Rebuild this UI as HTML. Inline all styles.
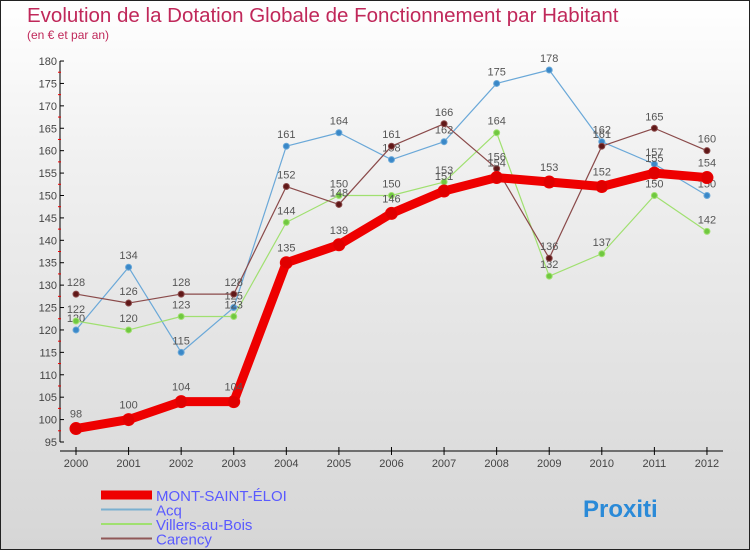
<!DOCTYPE html>
<html><head><meta charset="utf-8"><style>
body{margin:0}
#c{width:750px;height:550px;position:relative;overflow:hidden;box-sizing:border-box;border:1px solid #222;background:linear-gradient(#fff,#f0f0f0 30%,#d6d6d6);font-family:"Liberation Sans","DejaVu Sans",sans-serif}
</style></head><body>
<div id="c">
<svg id="s" width="750" height="550" style="position:absolute;left:0;top:0">
<text x="26" y="21" font-size="20.5" fill="#c0285a">Evolution de la Dotation Globale de Fonctionnement par Habitant</text>
<text x="26" y="38" font-size="12" fill="#c0285a">(en € et par an)</text>
</svg>
</div>
<script>
const years=[2000,2001,2002,2003,2004,2005,2006,2007,2008,2009,2010,2011,2012];
const mont=[98,100,104,104,135,139,146,151,154,153,152,155,154];
const acq=[120,134,115,125,161,164,158,162,175,178,162,157,150];
const villers=[122,120,123,123,144,150,150,153,164,132,137,150,142];
const carency=[128,126,128,128,152,148,161,166,156,136,161,165,160];
const yTicks=[95,100,105,110,115,120,125,130,135,140,145,150,155,160,165,170,175,180];
const NS="http://www.w3.org/2000/svg",s=document.getElementById('s');
const X=i=>75+i*52.58, Y=v=>441-(v-95)*4.482;
function el(t,a,p){const e=document.createElementNS(NS,t);for(const k in a)e.setAttribute(k,a[k]);(p||s).appendChild(e);return e;}
let ax=el('line',{x1:59,y1:60,x2:59,y2:441,stroke:'#000'});


yTicks.forEach((v,k)=>{
 el('line',{x1:59,x2:63,y1:Y(v),y2:Y(v),stroke:'#000'});
 if(k<yTicks.length-1)el('line',{x1:57,x2:60,y1:Y(v+2.5),y2:Y(v+2.5),stroke:'#e00'});
 const t=el('text',{x:56,y:Y(v)+4,'font-size':11,'text-anchor':'end',fill:'#444'});t.textContent=v;
 
 
});
let xa=el('line',{x1:59,y1:450,x2:722,y2:450,stroke:'#000'});


years.forEach((y,i)=>{
 el('line',{x1:X(i),x2:X(i),y1:446,y2:454,stroke:'#000'});
 const t=el('text',{x:X(i),y:466,'font-size':11,'text-anchor':'middle',fill:'#444'});t.textContent=y;
 
 
});
function series(d,color,dot,w,r,name){
 const g=el('g',{});
 
 
 el('polyline',{points:d.map((v,i)=>X(i)+','+Y(v)).join(' '),fill:'none',stroke:color,'stroke-width':w,'stroke-linejoin':'round'},g);
 d.forEach((v,i)=>{
  el('circle',{cx:X(i),cy:Y(v),r:r,fill:dot,stroke:color,'stroke-width':1},g);
  const t=el('text',{x:X(i),y:Y(v)-(w>3?11:8),'font-size':11,'text-anchor':'middle',fill:'#555'},g);t.textContent=v;
 });
}
series(acq,'#6aa8d8','#3a88c8',1.2,3,'series-acq');
series(villers,'#a0e070','#70c840',1.2,3,'series-villers');
series(carency,'#8a4a4a','#601818',1.2,3,'series-carency');
series(mont,'#ee0000','#e00000',9,6,'series-mont-saint-eloi');
const leg=[['MONT-SAINT-ÉLOI','#ee0000',9],['Acq','#7ab0d0',2],['Villers-au-Bois','#a0e070',2],['Carency','#905858',2]];
leg.forEach((l,i)=>{
 const y=494+i*14.5;
 const ln=el('line',{x1:100,x2:151,y1:y,y2:y,stroke:l[1],'stroke-width':l[2]});
 
 
 const t=el('text',{x:155,y:y+6,'font-size':15,fill:'#5a5aff'});t.textContent=l[0];
 
 
});
const p=el('text',{x:582,y:516,'font-size':24,'font-weight':'bold',fill:'#2a8ad8'});p.textContent='Proxiti';


</script>
</body></html>
